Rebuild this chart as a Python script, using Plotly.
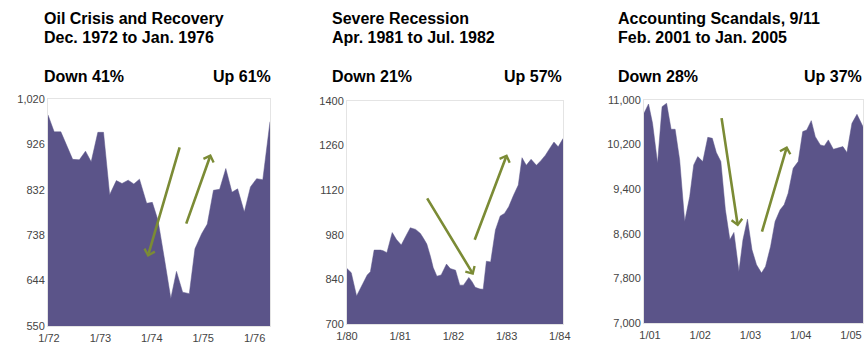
import plotly.graph_objects as go

# ---------------- data ----------------
p1_x = [1971.98, 1972.10, 1972.23, 1972.46, 1972.59, 1972.71, 1972.82, 1972.95, 1973.06, 1973.18,
        1973.31, 1973.42, 1973.54, 1973.65, 1973.76, 1973.90, 1974.01, 1974.12, 1974.25, 1974.37,
        1974.48, 1974.60, 1974.73, 1974.84, 1974.97, 1975.08, 1975.20, 1975.32, 1975.44, 1975.56,
        1975.67, 1975.80, 1975.92, 1976.04, 1976.16, 1976.30]
p1_y = [987, 952, 952, 895, 894, 912, 890, 951, 951, 822,
        851, 845, 852, 844, 854, 804, 806, 769, 686, 607,
        663, 620, 617, 710, 741, 761, 831, 833, 876, 827,
        834, 786, 838, 855, 853, 973]

p2_x = [1980.00, 1980.08, 1980.18, 1980.28, 1980.38, 1980.44, 1980.51, 1980.63, 1980.68, 1980.75,
        1980.85, 1980.93, 1981.02, 1981.10, 1981.19, 1981.29, 1981.38, 1981.44, 1981.50, 1981.57,
        1981.62, 1981.69, 1981.77, 1981.87, 1981.94, 1982.04, 1982.12, 1982.19, 1982.29, 1982.35,
        1982.41, 1982.50, 1982.56, 1982.62, 1982.70, 1982.79, 1982.88, 1982.96, 1983.04, 1983.13,
        1983.22, 1983.29, 1983.37, 1983.46, 1983.56, 1983.64, 1983.73, 1983.81, 1983.89, 1983.97,
        1984.06]
p2_y = [874, 861, 788, 822, 854, 864, 932, 932, 930, 924,
        987, 965, 948, 974, 1002, 997, 984, 968, 951, 911,
        877, 850, 854, 888, 874, 869, 822, 822, 846, 833,
        815, 810, 809, 897, 895, 995, 1039, 1047, 1068, 1104,
        1136, 1222, 1198, 1217, 1198, 1212, 1230, 1251, 1271, 1256,
        1282]

p3_x = [2000.88, 2000.97, 2001.05, 2001.15, 2001.24, 2001.33, 2001.42, 2001.50, 2001.59, 2001.69,
        2001.79, 2001.87, 2001.95, 2002.05, 2002.15, 2002.24, 2002.32, 2002.41, 2002.50, 2002.59,
        2002.67, 2002.77, 2002.85, 2002.94, 2003.03, 2003.12, 2003.22, 2003.30, 2003.40, 2003.49,
        2003.59, 2003.67, 2003.75, 2003.85, 2003.95, 2004.04, 2004.12, 2004.21, 2004.29, 2004.39,
        2004.47, 2004.55, 2004.65, 2004.74, 2004.84, 2004.92, 2005.02, 2005.12, 2005.24]
p3_y = [10761, 10928, 10582, 9866, 10881, 10940, 10475, 10475, 9925, 8821,
        9269, 9836, 9985, 9896, 10331, 10313, 10057, 9896, 9030, 8493,
        8624, 7925, 8493, 8863, 8313, 8045, 7896, 8015, 8373, 8821,
        9030, 9119, 9328, 9776, 9896, 10433, 10463, 10630, 10343, 10194,
        10176, 10284, 10116, 10134, 10164, 10057, 10582, 10743, 10522]

titles = [["Oil Crisis and Recovery", "Dec. 1972 to Jan. 1976"],
          ["Severe Recession", "Apr. 1981 to Jul. 1982"],
          ["Accounting Scandals, 9/11", "Feb. 2001 to Jan. 2005"]]
downs = ["Down 41%", "Down 21%", "Down 28%"]
ups = ["Up 61%", "Up 57%", "Up 37%"]

p1_ticks = [1972, 1973, 1974, 1975, 1976]
p1_ticklabels = ["1/72", "1/73", "1/74", "1/75", "1/76"]
p2_ticks = [1980, 1981, 1982, 1983, 1984]
p2_ticklabels = ["1/80", "1/81", "1/82", "1/83", "1/84"]
p3_ticks = [2001, 2002, 2003, 2004, 2005]
p3_ticklabels = ["1/01", "1/02", "1/03", "1/04", "1/05"]

p1_yticks = [550, 644, 738, 832, 926, 1020]
p1_yticklabels = ["550", "644", "738", "832", "926", "1,020"]
p2_yticks = [700, 840, 980, 1120, 1260, 1400]
p2_yticklabels = ["700", "840", "980", "1120", "1260", "1400"]
p3_yticks = [7000, 7800, 8600, 9400, 10200, 11000]
p3_yticklabels = ["7,000", "7,800", "8,600", "9,400", "10,200", "11,000"]

# arrows: (tail x, tail y, head x, head y)
p1_arrows = [(1974.55, 923, 1973.92, 693), (1974.66, 759, 1975.15, 906)]
p2_arrows = [(1981.49, 1099, 1982.38, 854), (1982.39, 960, 1983.01, 1233)]
p3_arrows = [(2002.42, 10702, 2002.75, 8731), (2003.22, 8612, 2003.73, 10176)]

# ---------------- styling / layout ----------------
W, H = 865, 343
FILL = "#5b5489"
ARROW = "#7b8b35"
FONT = "Liberation Sans, Arial, sans-serif"

panels = [
    dict(x=p1_x, y=p1_y, xt=p1_ticks, xtl=p1_ticklabels, yt=p1_yticks, ytl=p1_yticklabels,
         xr=[1971.98, 1976.30], yr=[550, 1020], px=(48, 270), py=(99, 326), arrows=p1_arrows,
         tx=42, upr=273),
    dict(x=p2_x, y=p2_y, xt=p2_ticks, xtl=p2_ticklabels, yt=p2_yticks, ytl=p2_yticklabels,
         xr=[1980.0, 1984.06], yr=[700, 1400], px=(347, 563), py=(101, 324), arrows=p2_arrows,
         tx=330, upr=564),
    dict(x=p3_x, y=p3_y, xt=p3_ticks, xtl=p3_ticklabels, yt=p3_yticks, ytl=p3_yticklabels,
         xr=[2000.88, 2005.24], yr=[7000, 11000], px=(644, 863), py=(100, 323), arrows=p3_arrows,
         tx=616, upr=864),
]

fig = go.Figure()
annotations = []
layout = dict(
    width=W, height=H, margin=dict(l=0, r=0, t=0, b=0, autoexpand=False),
    paper_bgcolor="white", plot_bgcolor="white", showlegend=False,
    font=dict(family=FONT, size=11, color="#444444"),
)

for i, p in enumerate(panels):
    n = "" if i == 0 else str(i + 1)
    xa, ya = "x" + n, "y" + n
    fig.add_trace(go.Scatter(
        x=p["x"], y=p["y"], mode="lines", fill="tozeroy",
        fillcolor=FILL, line=dict(color=FILL, width=0.5),
        xaxis=xa, yaxis=ya, hoverinfo="skip",
    ))
    layout["xaxis" + n] = dict(
        domain=[p["px"][0] / W, p["px"][1] / W], range=p["xr"], anchor=ya,
        tickvals=p["xt"], ticktext=p["xtl"], showgrid=False, zeroline=False,
        showline=True, mirror=True, linecolor="#e4e4e4", linewidth=1,
        ticks="", ticklen=0, ticklabelstandoff=2,
        tickfont=dict(size=11, color="#444444"), automargin=False,
    )
    layout["yaxis" + n] = dict(
        domain=[1 - p["py"][1] / H, 1 - p["py"][0] / H], range=p["yr"], anchor=xa,
        tickvals=p["yt"], ticktext=p["ytl"], showgrid=False, zeroline=False,
        showline=True, mirror=True, linecolor="#e4e4e4", linewidth=1,
        ticks="", tickfont=dict(size=11, color="#444444"), automargin=False,
    )
    # arrows
    for (tx0, ty0, hx, hy) in p["arrows"]:
        annotations.append(dict(
            x=hx, y=hy, ax=tx0, ay=ty0, xref=xa, yref=ya, axref=xa, ayref=ya,
            text="", showarrow=True, arrowhead=4, arrowsize=0.8, arrowwidth=2.6,
            arrowcolor=ARROW,
        ))
    # titles
    for j, line in enumerate(titles[i]):
        annotations.append(dict(
            x=p["tx"] / W, y=1 - (19 + 18.5 * j) / H, xref="paper", yref="paper",
            xanchor="left", yanchor="middle", showarrow=False, text="<b>%s</b>" % line,
            font=dict(family=FONT, size=16, color="#000000"),
        ))
    annotations.append(dict(
        x=p["tx"] / W, y=1 - 76 / H, xref="paper", yref="paper",
        xanchor="left", yanchor="middle", showarrow=False, text="<b>%s</b>" % downs[i],
        font=dict(family=FONT, size=16, color="#000000"),
    ))
    annotations.append(dict(
        x=p["upr"] / W, y=1 - 76 / H, xref="paper", yref="paper",
        xanchor="right", yanchor="middle", showarrow=False, text="<b>%s</b>" % ups[i],
        font=dict(family=FONT, size=16, color="#000000"),
    ))

layout["annotations"] = annotations
fig.update_layout(**layout)
fig.write_html("out.html")
